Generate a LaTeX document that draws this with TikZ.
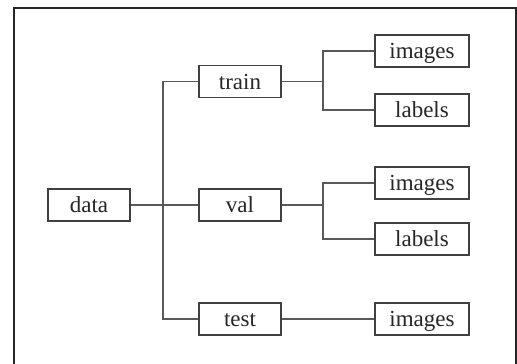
\documentclass[tikz,border=0pt]{standalone}
\usepackage{fontspec}
\setmainfont{Liberation Serif}
\usetikzlibrary{positioning}

\tikzset{
  dirbox/.style={draw=black!75, line width=1.4pt, fill=white,
    minimum width=82pt, minimum height=32pt, inner sep=0pt,
    text height=16pt, text depth=1pt, text=black!85,
    font=\fontsize{23}{27}\selectfont},
  filebox/.style={dirbox, minimum width=94pt},
  branch/.style={draw=black!65, line width=1.4pt}
}

\begin{document}
\begin{tikzpicture}[x=1pt,y=-1pt]
  \useasboundingbox (0,0) rectangle (517,364);
  % frame
  \draw[black!85, line width=1.5pt] (14,364) -- (14,8) -- (516,8) -- (516,364);

  % folders
  \node[dirbox] (data) at (89,205) {data};
  \node[dirbox] (train) at (240,81.5) {train};
  \node[dirbox] (val) at (240,205) {val};
  \node[dirbox] (test) at (240,319) {test};
  \node[filebox] (trimg) at (422,51) {images};
  \node[filebox] (trlab) at (422,110) {labels};
  \node[filebox] (vaimg) at (422,183) {images};
  \node[filebox] (valab) at (422,239) {labels};
  \node[filebox] (teimg) at (422,319) {images};

  \coordinate (bus) at (163,0);
  \coordinate (split) at (323,0);

  % data -> train, val, test
  \draw[branch] (data) -- (val);
  \draw[branch] (train.west) -- (train.west -| bus) -- (test.west -| bus) -- (test.west);
  % train -> images, labels
  \draw[branch] (train.east) -- (train.east -| split);
  \draw[branch] (trimg.west) -- (trimg.west -| split) -- (trlab.west -| split) -- (trlab.west);
  % val -> images, labels
  \draw[branch] (val.east) -- (val.east -| split);
  \draw[branch] (vaimg.west) -- (vaimg.west -| split) -- (valab.west -| split) -- (valab.west);
  % test -> images
  \draw[branch] (test) -- (teimg);
\end{tikzpicture}
\end{document}
